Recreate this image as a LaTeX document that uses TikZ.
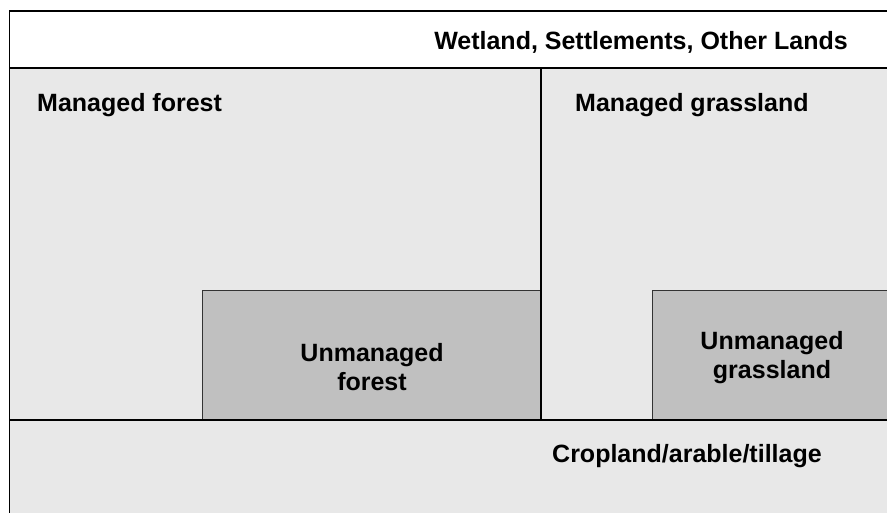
\documentclass[tikz,border=0pt]{standalone}
\usepackage{fontspec}
\setmainfont{Liberation Sans}
\definecolor{lightgr}{RGB}{232,232,232}
\definecolor{midgr}{RGB}{192,192,192}
\begin{document}
\begin{tikzpicture}[x=1pt,y=-1pt,
  lbl/.style={font=\bfseries\fontsize{25}{28.5}\selectfont, inner sep=0pt, text=black},
  unm/.style={fill=midgr, draw=black!80, line width=1pt, inner sep=0pt, anchor=north west},
  border/.style={line width=1.8pt, black}]
\useasboundingbox (0,0) rectangle (887,512);
\clip (0,0) rectangle (887,512);
\fill[white] (0,0) rectangle (887,512);
% named corner points
\coordinate (tl) at (9.5,11);
\coordinate (tr) at (895,11);
\coordinate (ml) at (9.5,68);
\coordinate (mr) at (895,68);
\coordinate (mid) at (541,68);
\coordinate (midb) at (541,420);
\coordinate (bl) at (9.5,420);
\coordinate (br) at (895,420);
\coordinate (bot) at (9.5,520);
% grey land area
\fill[lightgr] (ml) rectangle (895,520);
% unmanaged boxes
\node[unm, minimum width=338pt, minimum height=130pt] (uf) at (202,290) {};
\node[unm, minimum width=245pt, minimum height=130pt] (ug) at (652,290) {};
% borders
\draw[border] (bot) -- (tl) -- (tr);
\draw[border] (ml) -- (mr);
\draw[border] (mid) -- (midb);
\draw[border, line width=2.2pt] (bl) -- (br);
% labels
\node[lbl, anchor=base] (wet) at (641,49) {Wetland, Settlements, Other Lands};
\node[lbl, anchor=base west] (mf) at (37,111) {Managed forest};
\node[lbl, anchor=base west] (mg) at (575,111) {Managed grassland};
\node[lbl, anchor=base, align=center] (uft) at (372,390) {Unmanaged\\forest};
\node[lbl, anchor=base, align=center] (ugt) at (772,378) {Unmanaged\\grassland};
\node[lbl, anchor=base west] (crop) at (552,462) {Cropland/arable/tillage};
\end{tikzpicture}
\end{document}
